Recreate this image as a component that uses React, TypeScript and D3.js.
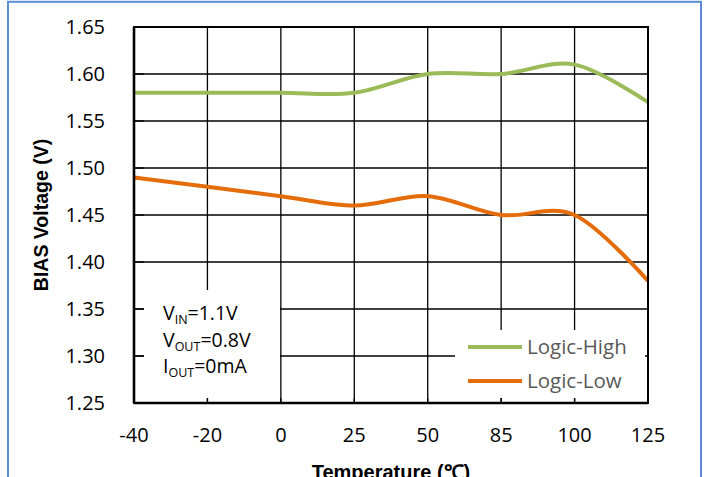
import React from "react";
import * as d3 from "d3";

const categories = ["-40", "-20", "0", "25", "50", "85", "100", "125"];
const logicHigh = [1.58, 1.58, 1.58, 1.58, 1.6, 1.6, 1.61, 1.57];
const logicLow = [1.49, 1.48, 1.47, 1.46, 1.47, 1.45, 1.45, 1.38];
const yTicks = [1.25, 1.3, 1.35, 1.4, 1.45, 1.5, 1.55, 1.6, 1.65];
const seriesNames = ["Logic-High", "Logic-Low"];
const seriesColors = ["#9BBB59", "#E46C0A"];

const W = 706;
const H = 477;
const left = 134;
const right = 648;
const top = 27;
const bottom = 403;

export default function App() {
  const x = d3.scalePoint<string>().domain(categories).range([left, right]);
  const y = d3.scaleLinear().domain([1.25, 1.65]).range([bottom, top]);
  const line = d3
    .line<number>()
    .x((_, i) => x(categories[i]) as number)
    .y((d) => y(d))
    .curve(d3.curveCatmullRom.alpha(0));
  const series = [logicHigh, logicLow];
  const font = "'Open Sans', 'Noto Sans', sans-serif";
  const boldFont = "'Liberation Sans', Arial, sans-serif";

  return (
    <svg
      width={W}
      height={H}
      style={{ position: "absolute", left: 0, top: 0, background: "#fff" }}
    >
      <rect x={0} y={0} width={W} height={H} fill="#fff" />
      {/* outer blue frame */}
      <rect x={8} y={1.8} width={693} height={500} fill="none" stroke="#5B8DD6" strokeWidth={2} />

      {/* horizontal grid */}
      {yTicks.map((t) => (
        <line key={"h" + t} x1={left} x2={right} y1={y(t)} y2={y(t)} stroke="#000" strokeWidth={1.3} />
      ))}
      {/* vertical grid */}
      {categories.map((c) => (
        <line key={"v" + c} x1={x(c)} x2={x(c)} y1={top} y2={bottom} stroke="#000" strokeWidth={1.3} />
      ))}

      {/* series */}
      {series.map((s, i) => (
        <path key={i} d={line(s) || ""} fill="none" stroke={seriesColors[i]} strokeWidth={4} />
      ))}

      {/* annotation box */}
      <rect x={144} y={290} width={136} height={108} fill="#fff" />
      <g fontFamily={font} fontSize={19.5} fill="#000">
        <text x={163} y={320}>
          V<tspan fontSize={12.5} dy={4}>IN</tspan>
          <tspan dy={-4}>=1.1V</tspan>
        </text>
        <text x={163} y={347}>
          V<tspan fontSize={12.5} dy={4}>OUT</tspan>
          <tspan dy={-4}>=0.8V</tspan>
        </text>
        <text x={163} y={373}>
          I<tspan fontSize={12.5} dy={4}>OUT</tspan>
          <tspan dy={-4}>=0mA</tspan>
        </text>
      </g>

      {/* legend */}
      <rect x={455} y={330} width={190} height={68} fill="#fff" />
      {seriesNames.map((n, i) => (
        <g key={n}>
          <line x1={468} x2={522} y1={347 + i * 34} y2={347 + i * 34} stroke={seriesColors[i]} strokeWidth={4} />
          <text x={527} y={354 + i * 34} fontFamily={font} fontSize={20.5} fill="#595959">
            {n}
          </text>
        </g>
      ))}

      {/* axis ticks (inside) */}
      {yTicks.map((t) => (
        <line key={"yt" + t} x1={left} x2={left + 10} y1={y(t)} y2={y(t)} stroke="#000" strokeWidth={1.3} />
      ))}
      {categories.map((c) => (
        <line key={"xt" + c} x1={x(c)} x2={x(c)} y1={bottom - 5} y2={bottom} stroke="#000" strokeWidth={1.3} />
      ))}

      {/* plot border */}
      <rect x={left} y={top} width={right - left} height={bottom - top} fill="none" stroke="#000" strokeWidth={2} />
      <line x1={left} x2={left} y1={top} y2={bottom} stroke="#000" strokeWidth={2.6} />
      <line x1={left} x2={right} y1={bottom} y2={bottom} stroke="#000" strokeWidth={2.6} />

      {/* y tick labels */}
      {yTicks.map((t) => (
        <text key={"yl" + t} x={105} y={y(t) + 7} textAnchor="end" fontFamily={font} fontSize={20} fill="#000">
          {t.toFixed(2)}
        </text>
      ))}
      {/* x tick labels */}
      {categories.map((c) => (
        <text key={"xl" + c} x={x(c)} y={442} textAnchor="middle" fontFamily={font} fontSize={20} fill="#000">
          {c}
        </text>
      ))}

      {/* axis titles */}
      <text
        transform={`translate(48, ${(top + bottom) / 2}) rotate(-90)`}
        textAnchor="middle"
        fontFamily={boldFont}
        fontWeight="bold"
        fontSize={19.5}
        fill="#000"
      >
        BIAS Voltage (V)
      </text>
      <text x={(left + right) / 2} y={479} textAnchor="middle" fontFamily={boldFont} fontWeight="bold" fontSize={20} fill="#000">
        Temperature (℃)
      </text>
    </svg>
  );
}
